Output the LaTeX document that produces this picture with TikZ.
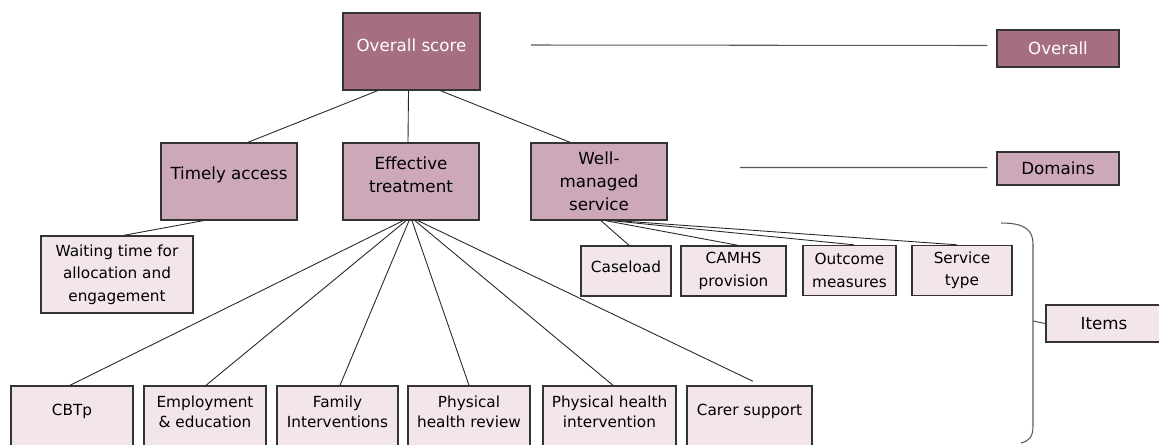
\documentclass[tikz,border=0pt]{standalone}
\usepackage{fontspec}
\setmainfont{DejaVu Sans}
\usepackage{xcolor}
\usetikzlibrary{calc,positioning}

\definecolor{overallfill}{HTML}{A56E83}
\definecolor{domainfill}{HTML}{CDA8B9}
\definecolor{itemfill}{HTML}{F2E6EA}
\definecolor{framecol}{HTML}{333333}

\begin{document}
\begin{tikzpicture}[
    box/.style={draw=framecol, line width=0.8pt, align=center, inner sep=0pt},
    overallbox/.style={box, fill=overallfill, text=white, font=\fontsize{9.5}{13}\selectfont},
    domainbox/.style={box, fill=domainfill, font=\fontsize{9.5}{13}\selectfont},
    itembox/.style={box, fill=itemfill, font=\fontsize{8.7}{12.7}\selectfont},
    lowbox/.style={itembox, minimum height=1.24cm, text depth=6.2pt, font=\fontsize{8.7}{11.3}\selectfont},
    lifttext/.style={text depth=#1},
    link/.style={draw=black!85, line width=0.5pt},
    legendlink/.style={draw=black!65, line width=0.6pt}]
                    \useasboundingbox (0,0) rectangle (23.18,-8.88);
                    \clip (0,0) rectangle (23.18,-8.88);

                    % Overall score and its legend
                    \node [overallbox, minimum width=2.74cm, minimum height=1.54cm, lifttext=6.8pt] (score) at (8.23,-1.03) {Overall score};
                    \node [overallbox, minimum width=2.44cm, minimum height=0.74cm] (legoverall) at (21.16,-0.97) {Overall};
                    \coordinate (scoreline) at (10.62,-0.90);

                    % Domains
                    \node [domainbox, minimum width=2.72cm, minimum height=1.54cm, lifttext=9pt] (timely) at (4.58,-3.63) {Timely access};
                    \node [domainbox, minimum width=2.72cm, minimum height=1.54cm, lifttext=7.9pt] (effective) at (8.22,-3.63) {Effective\\treatment};
                    \node [domainbox, minimum width=2.72cm, minimum height=1.54cm] (well) at (11.98,-3.63) {Well-\\managed\\service};
                    \node [domainbox, minimum width=2.44cm, minimum height=0.66cm] (legdomains) at (21.16,-3.37) {Domains};
                    \coordinate (domainline) at (14.80,-3.35);

                    % Items under timely access and well-managed service
                    \node [itembox, minimum width=3.04cm, minimum height=1.54cm] (waiting) at (2.34,-5.49) {Waiting time for\\allocation and\\engagement};
                    \node [itembox, minimum width=1.80cm, minimum height=1.00cm, lifttext=4.5pt] (caseload) at (12.52,-5.42) {Caseload};
                    \node [itembox, minimum width=2.10cm, minimum height=1.00cm] (camhs) at (14.67,-5.42) {CAMHS\\provision};
                    \node [itembox, minimum width=1.86cm, minimum height=1.00cm] (outcome) at (16.99,-5.41) {Outcome\\measures};
                    \node [itembox, minimum width=2.00cm, minimum height=1.00cm] (servicetype) at (19.24,-5.41) {Service\\type};
                    \node [itembox, minimum width=2.32cm, minimum height=0.74cm, font=\fontsize{9.5}{13}\selectfont] (legitems) at (22.08,-6.47) {Items};

                    % Items under effective treatment
                    \node [lowbox, minimum width=2.44cm, lifttext=8.3pt] (cbtp) at (1.44,-8.34) {CBTp};
                    \node [lowbox, minimum width=2.44cm] (employment) at (4.10,-8.34) {Employment\\\& education};
                    \node [lowbox, minimum width=2.42cm] (family) at (6.75,-8.34) {Family\\Interventions};
                    \node [lowbox, minimum width=2.44cm] (review) at (9.38,-8.34) {Physical\\health review};
                    \node [lowbox, minimum width=2.66cm] (intervention) at (12.19,-8.34) {Physical health\\intervention};
                    \node [lowbox, minimum width=2.50cm, lifttext=8.3pt] (carer) at (14.99,-8.34) {Carer support};

                    % Drawing links from the overall score
                    \draw [link] ($(score.south)+(-0.68,0)$) -- ($(timely.north)+(0.38,0)$);%
                    \draw [link] ($(score.south)+(-0.06,0)$) -- ($(effective.north)+(-0.06,0)$);%
                    \draw [link] ($(score.south)+(0.58,0)$) -- ($(well.north)+(-0.58,0)$);%
                    \draw [link] ($(timely.south)+(-0.52,0)$) -- ($(waiting.north)+(0.14,0)$);%

                    % Drawing links from effective treatment
                    \draw [link] ($(effective.south)+(-0.16,0)$) -- ($(cbtp.north)+(-0.04,0)$);%
                    \draw [link] ($(effective.south)+(-0.10,0)$) -- ($(employment.north)+(0.02,0)$);%
                    \draw [link] ($(effective.south)+(-0.04,0)$) -- ($(family.north)+(0.05,0)$);%
                    \draw [link] ($(effective.south)+(0.02,0)$) -- (review.north);%
                    \draw [link] ($(effective.south)+(0.08,0)$) -- ($(intervention.north)+(0.07,0)$);%
                    \draw [link] ($(effective.south)+(0.14,0)$) -- ($(carer.north)+(0.07,0.08)$);%

                    % Drawing links from well-managed service
                    \draw [link] ($(well.south)+(0.04,0)$) -- ($(caseload.north)+(0.06,0)$);%
                    \draw [link] ($(well.south)+(0.14,0)$) -- ($(camhs.north)+(0.09,0)$);%
                    \draw [link] ($(well.south)+(0.26,0)$) -- ($(outcome.north)+(0.09,0)$);%
                    \draw [link] ($(well.south)+(0.38,0)$) -- ($(servicetype.north)+(-0.10,0)$);%

                    % Legend lines and bracket
                    \draw [legendlink] (scoreline) -- ($(legoverall.west)+(-0.18,0.06)$);%
                    \draw [legendlink] (domainline) -- ($(legdomains.west)+(-0.18,0.02)$);%
                    \draw [legendlink] (20.02,-4.46) .. controls (20.50,-4.46) and (20.66,-4.60) .. (20.66,-4.88) -- (20.66,-8.52) .. controls (20.66,-8.74) and (20.58,-8.82) .. (20.42,-8.86);%
                    \draw [legendlink] (legitems.west) -- (20.66,-6.42);%
                \end{tikzpicture}
\end{document}
